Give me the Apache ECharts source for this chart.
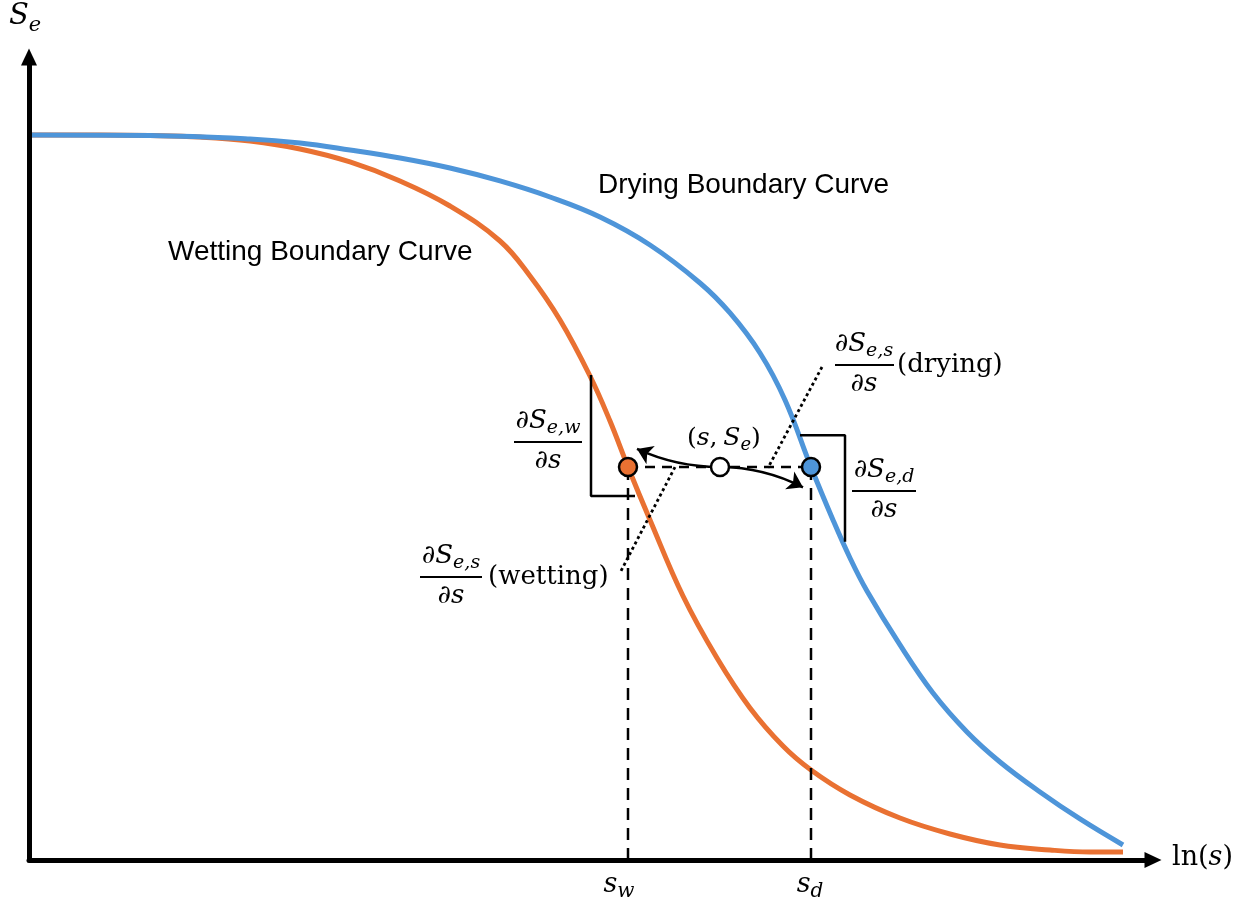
<!DOCTYPE html>
<html><head><meta charset="utf-8">
<script src="https://cdn.jsdelivr.net/npm/echarts@6/dist/echarts.min.js"></script>
<style>html,body{margin:0;padding:0;background:#fff}#c{width:1249px;height:907px}</style>
</head><body><div id="c"></div>
<script>
// ---- data (ln(s) in arbitrary units, Se effective saturation) ----
const wettingLnS = [0, 0.71, 1.21, 1.71, 2.21, 2.71, 3.21, 3.71, 4.21, 4.71, 5.01, 5.31, 5.61, 5.81, 5.99, 6.21, 6.54, 6.88, 7.21, 7.54, 7.82, 8.21, 8.71, 9.21, 9.71, 10.21, 10.61, 10.94];
const wettingSe  = [1.000, 1.000, 0.9993, 0.9972, 0.9917, 0.9807, 0.9628, 0.9366, 0.9021, 0.8538, 0.8055, 0.7448, 0.6676, 0.6055, 0.5421, 0.4690, 0.3641, 0.2786, 0.2097, 0.1572, 0.1241, 0.0897, 0.0579, 0.0359, 0.0207, 0.0138, 0.0110, 0.0110];
const dryingLnS  = [0, 1.21, 2.21, 2.71, 3.21, 3.71, 4.21, 4.71, 5.21, 5.71, 6.21, 6.71, 7.01, 7.31, 7.56, 7.82, 8.04, 8.21, 8.38, 8.71, 9.04, 9.38, 9.71, 10.11, 10.51, 10.94];
const dryingSe   = [1.000, 0.9993, 0.9945, 0.9890, 0.9793, 0.9683, 0.9545, 0.9366, 0.9145, 0.8869, 0.8483, 0.7959, 0.7545, 0.6993, 0.6345, 0.5421, 0.4690, 0.4166, 0.3710, 0.2966, 0.2303, 0.1766, 0.1352, 0.0938, 0.0566, 0.0207];
const sW = 5.99, sD = 7.82, sCur = 6.91, SeCur = 0.5421;
// slope brackets and tangent lines (data coords)
const wetBracket = [[5.62, 0.669], [5.62, 0.502], [6.06, 0.502]];
const dryBracket = [[7.71, 0.586], [8.16, 0.586], [8.16, 0.439]];
const wetTangent = [[6.46, 0.542], [5.91, 0.396]];
const dryTangent = [[7.93, 0.680], [7.39, 0.541]];
const arrowLeftEnd = [6.08, 0.567];
const arrowRightEnd = [7.74, 0.514];
const X_MAX = 11.24, Y_MAX = 1.1076;

const ORANGE = '#E97132', BLUE = '#4E95D9';
const pair = (xs, ys) => xs.map((x, i) => [x, ys[i]]);
const chart = echarts.init(document.getElementById('c'));

const blk = (type, w) => ({ color: '#000', width: w, type: type });
const seg = (data, ls, z) => ({ type: 'line', data, symbol: 'none', lineStyle: ls, z, silent: true, animation: false });
const axisLine = { show: true, lineStyle: { color: '#000', width: 5 }, symbol: ['none', 'triangle'], symbolSize: [16, 17], symbolOffset: [0, 0] };

chart.setOption({
  animation: false,
  grid: { left: 29, right: 96, top: 57, bottom: 47 },
  xAxis: { type: 'value', min: 0, max: X_MAX, z: 10, axisLine,
    axisTick: { show: false }, axisLabel: { show: false }, splitLine: { show: false } },
  yAxis: { type: 'value', min: 0, max: Y_MAX, z: 10, axisLine,
    axisTick: { show: false }, axisLabel: { show: false }, splitLine: { show: false } },
  series: [
    { type: 'line', name: 'Wetting Boundary Curve', data: pair(wettingLnS, wettingSe), smooth: 0.4,
      symbol: 'none', lineStyle: { color: ORANGE, width: 5 }, z: 2 },
    { type: 'line', name: 'Drying Boundary Curve', data: pair(dryingLnS, dryingSe), smooth: 0.4,
      symbol: 'none', lineStyle: { color: BLUE, width: 5 }, z: 3 },
    seg([[sW, 0], [sW, SeCur]], blk([12, 8], 2.5), 4),
    seg([[sD, 0], [sD, SeCur]], blk([12, 8], 2.5), 4),
    seg([[sW, SeCur], [sD, SeCur]], blk([10, 7], 2.5), 4),
    seg(wetBracket, blk('solid', 2.5), 4),
    seg(dryBracket, blk('solid', 2.5), 4),
    seg(wetTangent, blk([3, 3], 2.8), 5),
    seg(dryTangent, blk([3, 3], 2.8), 5),
    { type: 'lines', coordinateSystem: 'cartesian2d', z: 6, silent: true,
      symbol: ['none', 'arrow'], symbolSize: 15,
      lineStyle: { color: '#000', width: 2.5, opacity: 1 },
      data: [
        { coords: [[sCur, SeCur], arrowLeftEnd], lineStyle: { curveness: 0.11 } },
        { coords: [[sCur, SeCur], arrowRightEnd], lineStyle: { curveness: 0.12 } }
      ] },
    { type: 'scatter', z: 8, symbolSize: 18, silent: true,
      itemStyle: { borderColor: '#000', borderWidth: 2.5, opacity: 1 },
      data: [
        { value: [sW, SeCur], itemStyle: { color: ORANGE } },
        { value: [sCur, SeCur], itemStyle: { color: '#ffffff' } },
        { value: [sD, SeCur], itemStyle: { color: BLUE } }
      ] }
  ]
});

// ---- text annotations (math typeset from runs) ----
const SERIF = '"DejaVu Serif", serif';
const SANS = '"Liberation Sans", Arial, sans-serif';
const mctx = document.createElement('canvas').getContext('2d');
const fnt = r => (r.it ? 'italic ' : '') + r.fs + 'px ' + (r.ff || SERIF);
const runW = rs => rs.reduce((s, r) => { mctx.font = fnt(r); return s + mctx.measureText(r.t).width; }, 0);
function place(rs, x, base, align) {
  const total = runW(rs);
  let cx = align === 'center' ? x - total / 2 : x;
  return rs.map(r => {
    mctx.font = fnt(r);
    const w = mctx.measureText(r.t).width;
    const el = { type: 'text', x: cx, y: base + (r.dy || 0) - 0.346 * r.fs, z: 100, silent: true,
      style: { text: r.t, font: fnt(r), fill: '#000', align: 'left', verticalAlign: 'middle', textAlign: 'left', textVerticalAlign: 'middle' } };
    cx += w;
    return el;
  });
}
const M = 26, SB = 19;
const I = (t, fs, dy) => ({ t, it: true, fs: fs || M, dy: dy || 0 });
const U = (t, fs) => ({ t, it: false, fs: fs || M });
function fraction(sub, cx, barY, x1, x2) {
  return [
    ...place([I('∂S'), I(sub, SB, 5)], cx, barY - 12, 'center'),
    ...place([I('∂s')], cx, barY + 28, 'center'),
    { type: 'line', z: 100, silent: true, shape: { x1, y1: barY, x2, y2: barY }, style: { stroke: '#000', lineWidth: 2 } }
  ];
}
const els = [
  ...place([I('S', 29), I('e', 21, 6)], 9, 27),
  ...place([U('ln(', 27), I('s', 27), U(')', 27)], 1172, 867),
  ...place([I('s', 27), I('w', 20, 5)], 619, 894, 'center'),
  ...place([I('s', 27), I('d', 20, 5)], 810, 894, 'center'),
  ...place([U('(', 25), I('s', 25), U(',', 25), U(' ', 18), I('S', 25), I('e', 18, 5), U(')', 25)], 687, 447),
  ...fraction('e,w', 548, 442, 514, 582),
  ...fraction('e,d', 884, 491, 852, 916),
  ...fraction('e,s', 864, 365, 835, 894),
  ...place([U('(drying)')], 897, 374),
  ...fraction('e,s', 451, 577, 420, 482),
  ...place([U('(wetting)')], 488, 586),
  ...place([{ t: 'Drying Boundary Curve', fs: 28, ff: SANS }], 598, 195),
  ...place([{ t: 'Wetting Boundary Curve', fs: 28, ff: SANS }], 168, 262)
];
chart.setOption({ graphic: { elements: els } });
</script>
</body></html>
